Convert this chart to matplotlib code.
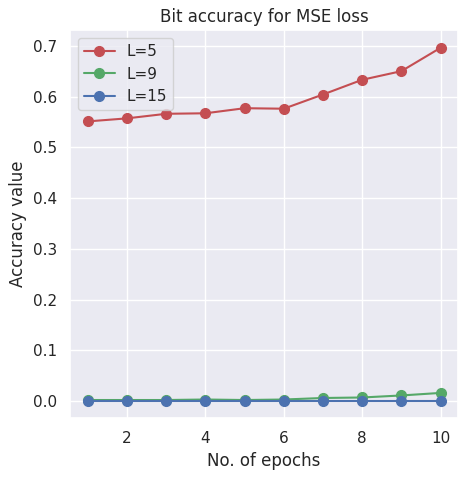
import matplotlib
matplotlib.use('Agg')
import matplotlib.pyplot as plt
import seaborn as sns

sns.set_theme()

epochs = [1, 2, 3, 4, 5, 6, 7, 8, 9, 10]
acc_l5 = [0.551, 0.557, 0.566, 0.567, 0.577, 0.576, 0.604, 0.633, 0.650, 0.696]
acc_l9 = [0.002, 0.002, 0.002, 0.003, 0.002, 0.003, 0.006, 0.007, 0.011, 0.016]
acc_l15 = [0.001, 0.001, 0.001, 0.001, 0.001, 0.001, 0.001, 0.001, 0.001, 0.001]

fig, ax = plt.subplots(figsize=(4.68, 4.79), dpi=100)
ax.plot(epochs, acc_l5, 'o-', color='#c44e52', markersize=7, label='L=5')
ax.plot(epochs, acc_l9, 'o-', color='#55a868', markersize=7, label='L=9')
ax.plot(epochs, acc_l15, 'o-', color='#4c72b0', markersize=7, label='L=15')
ax.set_title('Bit accuracy for MSE loss')
ax.set_xlabel('No. of epochs')
ax.set_ylabel('Accuracy value')
ax.legend(loc='upper left')
fig.subplots_adjust(left=0.15, right=0.979, bottom=0.127, top=0.937)
fig.savefig('out.png', dpi=100)
